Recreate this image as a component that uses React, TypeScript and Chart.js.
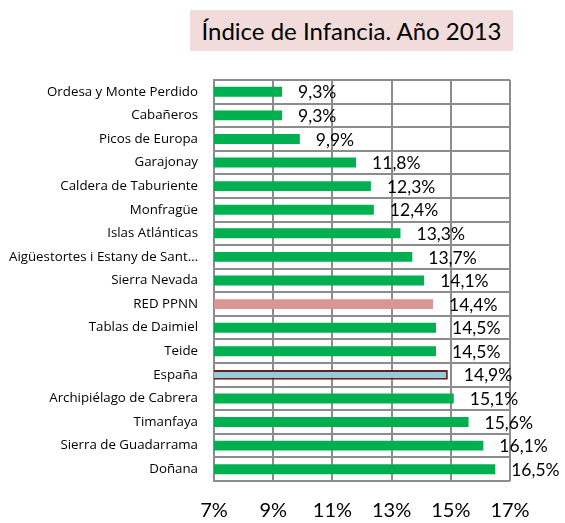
import React, { useEffect, useRef } from "react";
import { Chart, registerables } from "chart.js";

Chart.register(...registerables);

const categories: string[] = [
  "Ordesa y Monte Perdido",
  "Cabañeros",
  "Picos de Europa",
  "Garajonay",
  "Caldera de Taburiente",
  "Monfragüe",
  "Islas Atlánticas",
  "Aigüestortes i Estany de Sant Maurici",
  "Sierra Nevada",
  "RED PPNN",
  "Tablas de Daimiel",
  "Teide",
  "España",
  "Archipiélago de Cabrera",
  "Timanfaya",
  "Sierra de Guadarrama",
  "Doñana",
];

const values: number[] = [9.3, 9.3, 9.9, 11.8, 12.3, 12.4, 13.3, 13.7, 14.1, 14.4, 14.5, 14.5, 14.9, 15.1, 15.6, 16.1, 16.5];

const xTicks: number[] = [7, 9, 11, 13, 15, 17];

const title = "Índice de Infancia. Año 2013";

const GREEN = "#00b050";
const PINK = "#da9694";
const BLUE = "#93cddd";
const FONT = "Lato, 'Open Sans', sans-serif";
const LABEL_FONT = "'Open Sans', Lato, sans-serif";

const barColors = categories.map((c) => (c === "RED PPNN" ? PINK : c === "España" ? BLUE : GREEN));
const borderColors = categories.map((c) => (c === "España" ? "#632523" : "rgba(0,0,0,0)"));
const borderWidths = categories.map((c) => (c === "España" ? 2 : 0));

const labelPlugin = {
  id: "valueLabels",
  afterDatasetsDraw(chart: any) {
    const ctx = chart.ctx;
    const meta = chart.getDatasetMeta(0);
    ctx.save();
    ctx.font = `17.5px ${FONT}`;
    ctx.fillStyle = "#000";
    ctx.textAlign = "left";
    ctx.textBaseline = "middle";
    meta.data.forEach((bar: any, i: number) => {
      const txt = values[i].toFixed(1).replace(".", ",") + "%";
      ctx.fillText(txt, bar.x + 16, bar.y + 1);
    });
    ctx.restore();
  },
};

export default function App() {
  const ref = useRef<HTMLCanvasElement>(null);
  useEffect(() => {
    if (!ref.current) return;
    const chart = new Chart(ref.current, {
      type: "bar",
      data: {
        labels: categories,
        datasets: [
          {
            data: values,
            backgroundColor: barColors,
            borderColor: borderColors,
            borderWidth: borderWidths,
            borderSkipped: false,
            categoryPercentage: 1,
            barPercentage: 0.42,
          },
        ],
      },
      options: {
        indexAxis: "y",
        animation: false,
        responsive: false,
        maintainAspectRatio: false,
        layout: { padding: { top: 80, right: 55, left: 0, bottom: 0 } },
        plugins: { legend: { display: false }, tooltip: { enabled: false }, title: { display: false } },
        scales: {
          x: {
            min: 7,
            max: 17,
            afterBuildTicks: (s: any) => {
              s.ticks = xTicks.map((v) => ({ value: v }));
            },
            afterFit: (s: any) => {
              s.height = 42;
            },
            ticks: {
              padding: 18,
              color: "#000",
              font: { family: FONT, size: 20 },
              callback: (v: any) => v + "%",
              maxRotation: 0,
            },
            grid: { color: "#8c8c8c", lineWidth: 2, drawTicks: false },
            border: { display: false },
          },
          y: {
            afterFit: (s: any) => {
              s.width = 214;
            },
            ticks: {
              padding: 16,
              color: "#000",
              font: { family: LABEL_FONT, size: 13.3 },
              callback: (_v: any, i: number) => {
                const c = categories[i];
                return c.length > 29 ? c.slice(0, 29) + "…" : c;
              },
            },
            grid: { color: "#8c8c8c", lineWidth: 2, drawTicks: false, offset: true },
            border: { color: "#8c8c8c", width: 2 },
          },
        },
      },
      plugins: [labelPlugin],
    });
    return () => chart.destroy();
  }, []);
  return (
    <div style={{ position: "fixed", left: 0, top: 0, width: 565, height: 523, background: "#fff" }}>
      <canvas ref={ref} width={565} height={523} style={{ position: "absolute", left: 0, top: 0 }} />
      <div
        style={{
          position: "absolute",
          left: 190,
          top: 10,
          width: 323,
          height: 41,
          background: "#f2dcdb",
          fontFamily: FONT,
          fontSize: 24,
          lineHeight: "41px",
          textAlign: "center",
          color: "#000",
        }}
      >
        {title}
      </div>
    </div>
  );
}
